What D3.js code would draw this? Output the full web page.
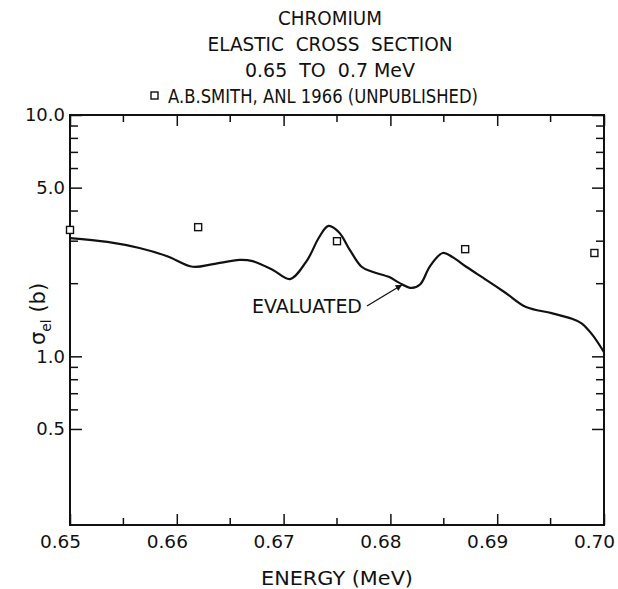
<!DOCTYPE html>
<html>
<head>
<meta charset="utf-8">
<style>
  body { margin: 0; background: #fff; }
  text { font-family: "DejaVu Sans", sans-serif; fill: #111; }
</style>
</head>
<body>
<svg width="618" height="589"></svg>
<script src="https://d3js.org/d3.v7.min.js"></script>
<script>

// START: data
const titleLines = ["CHROMIUM", "ELASTIC  CROSS  SECTION", "0.65  TO  0.7 MeV"];
const titleWidths = [104, 245, 170];
const legendText = "A.B.SMITH, ANL 1966 (UNPUBLISHED)";

// evaluated curve (energy MeV, sigma barns)
const curveE = [0.6500, 0.6535, 0.6565, 0.6591, 0.6615, 0.6634, 0.6659, 0.6671, 0.6690, 0.6706,
                0.6722, 0.6733, 0.6742, 0.6752, 0.6762, 0.6773, 0.6783, 0.6799, 0.6808,
                0.6820, 0.6828, 0.6837, 0.6849, 0.6858, 0.6871, 0.6890, 0.6908, 0.6927, 0.6951,
                0.6970, 0.6979, 0.6989, 0.7000];
const curveS = [3.09, 2.98, 2.81, 2.60, 2.35, 2.41, 2.51, 2.48, 2.28, 2.09,
                2.50, 3.10, 3.47, 3.26, 2.76, 2.35, 2.24, 2.13, 2.02,
                1.92, 1.99, 2.36, 2.68, 2.58, 2.35, 2.07, 1.83, 1.60, 1.51,
                1.43, 1.37, 1.23, 1.04];

// A.B. Smith points
const smithE = [0.6500, 0.6620, 0.6750, 0.6870, 0.6991];
const smithS = [3.34, 3.43, 3.00, 2.78, 2.68];

const xMajor = [0.65, 0.66, 0.67, 0.68, 0.69, 0.70];
const xMinor = [0.655, 0.665, 0.675, 0.685, 0.695];
const yMajor = [10, 5, 1, 0.5];
const yMajorLabels = ["10.0", "5.0", "1.0", "0.5"];
const yMinor = [9, 8, 7, 6, 4, 3, 2, 0.9, 0.8, 0.7, 0.6];
// END: data

const svg = d3.select("svg"),
    pLeft = 70, pRight = 604, pTop = 115, pBottom = 525;

const x = d3.scaleLinear().domain([0.65, 0.70]).range([pLeft, pRight]);
const y = d3.scaleLog().domain([0.2, 10]).range([pBottom, pTop]);

// titles
titleLines.forEach(function(t, i) {
  svg.append("text")
    .attr("x", 330).attr("y", 25 + i * 26)
    .attr("text-anchor", "middle")
    .attr("textLength", titleWidths[i])
    .attr("lengthAdjust", "spacingAndGlyphs")
    .style("font-size", "19px")
    .style("white-space", "pre")
    .text(t);
});
svg.append("rect")
  .attr("x", 151).attr("y", 92).attr("width", 7).attr("height", 7)
  .attr("fill", "none").attr("stroke", "#111").attr("stroke-width", 1.4);
svg.append("text")
  .attr("x", 168).attr("y", 103)
  .attr("textLength", 310)
  .attr("lengthAdjust", "spacingAndGlyphs")
  .style("font-size", "19px")
  .text(legendText);

// frame
svg.append("rect")
  .attr("x", pLeft).attr("y", pTop)
  .attr("width", pRight - pLeft).attr("height", pBottom - pTop)
  .attr("fill", "none").attr("stroke", "#111").attr("stroke-width", 2);

// x ticks, bottom and top, inward
const xAxisB = d3.axisBottom(x).tickValues(xMajor).tickSize(-11).tickFormat(d3.format(".2f"));
const gxB = svg.append("g").attr("transform", "translate(0," + pBottom + ")").call(xAxisB);
gxB.select(".domain").remove();
gxB.selectAll("text").attr("y", 23).attr("dy", 0).attr("dx", -10).style("font-size", "18.5px");

const gxT = svg.append("g").attr("transform", "translate(0," + pTop + ")")
  .call(d3.axisTop(x).tickValues(xMajor).tickSize(-11).tickFormat(""));
gxT.select(".domain").remove();

[pBottom, pTop].forEach(function(yy, k) {
  svg.append("g").selectAll("line").data(xMinor).enter().append("line")
    .attr("x1", function(d) { return x(d); }).attr("x2", function(d) { return x(d); })
    .attr("y1", yy).attr("y2", k === 0 ? yy - 7 : yy + 7)
    .attr("stroke", "#111").attr("stroke-width", 1.5);
});

// y ticks, left and right, inward
const gyL = svg.append("g").attr("transform", "translate(" + pLeft + ",0)")
  .call(d3.axisLeft(y).tickValues(yMajor).tickSize(-12)
    .tickFormat(function(d, i) { return yMajorLabels[i]; }));
gyL.select(".domain").remove();
gyL.selectAll("text").attr("x", -5).style("font-size", "18px");

const gyR = svg.append("g").attr("transform", "translate(" + pRight + ",0)")
  .call(d3.axisRight(y).tickValues(yMajor).tickSize(-12).tickFormat(""));
gyR.select(".domain").remove();

[pLeft, pRight].forEach(function(xx, k) {
  svg.append("g").selectAll("line").data(yMinor).enter().append("line")
    .attr("x1", xx).attr("x2", k === 0 ? xx + 8 : xx - 8)
    .attr("y1", function(d) { return y(d); }).attr("y2", function(d) { return y(d); })
    .attr("stroke", "#111").attr("stroke-width", 1.5);
});

svg.selectAll(".tick line").attr("stroke", "#111").attr("stroke-width", 1.5);

// axis titles
svg.append("text")
  .attr("x", 337).attr("y", 585)
  .attr("text-anchor", "middle")
  .attr("textLength", 152)
  .attr("lengthAdjust", "spacingAndGlyphs")
  .style("font-size", "19px")
  .text("ENERGY (MeV)");

const yl = svg.append("text")
  .attr("transform", "translate(45,314) rotate(-90)")
  .attr("text-anchor", "middle")
  .style("font-size", "21px");
yl.append("tspan").text("σ");
yl.append("tspan").attr("dy", 6).style("font-size", "14px").text("el");
yl.append("tspan").attr("dy", -6).text(" (b)");

// evaluated curve
const pts = curveE.map(function(e, i) { return [e, curveS[i]]; });
const line = d3.line()
  .x(function(d) { return x(d[0]); })
  .y(function(d) { return y(d[1]); })
  .curve(d3.curveCatmullRom.alpha(0.5));

svg.append("path")
  .datum(pts)
  .attr("d", line)
  .attr("fill", "none")
  .attr("stroke", "#111")
  .attr("stroke-width", 2.2);

// data squares
svg.append("g").selectAll("rect").data(smithE).enter().append("rect")
  .attr("x", function(d) { return x(d) - 3.5; })
  .attr("y", function(d, i) { return y(smithS[i]) - 3.5; })
  .attr("width", 7).attr("height", 7)
  .attr("fill", "#fff").attr("stroke", "#111").attr("stroke-width", 1.4);

// label + arrow
svg.append("defs").append("marker")
  .attr("id", "ah").attr("viewBox", "0 0 10 10")
  .attr("refX", 10).attr("refY", 5)
  .attr("markerWidth", 10).attr("markerHeight", 5)
  .attr("orient", "auto")
  .append("path").attr("d", "M0,0 L10,5 L0,10 z").attr("fill", "#111");

svg.append("text")
  .attr("x", 252).attr("y", 313)
  .attr("textLength", 110)
  .attr("lengthAdjust", "spacingAndGlyphs")
  .style("font-size", "19px")
  .text("EVALUATED");

svg.append("line")
  .attr("x1", 367).attr("y1", 306)
  .attr("x2", x(0.6811)).attr("y2", y(1.98))
  .attr("stroke", "#111").attr("stroke-width", 1.3)
  .attr("marker-end", "url(#ah)");

</script>
</body>
</html>
